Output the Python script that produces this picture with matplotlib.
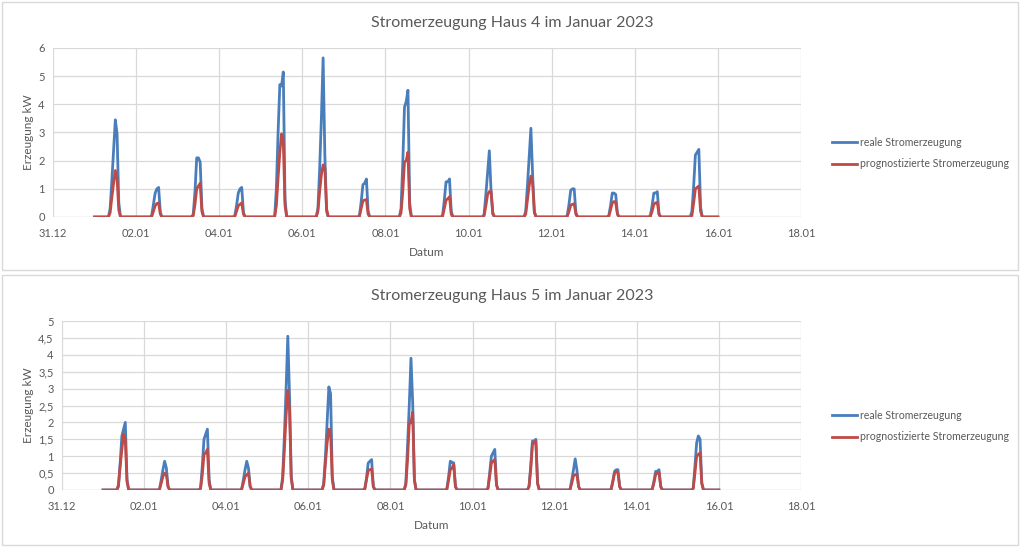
import numpy as np
import pandas as pd
import matplotlib
matplotlib.use("Agg")
import matplotlib.pyplot as plt
import matplotlib.dates as mdates
from matplotlib.ticker import FuncFormatter, MultipleLocator
from matplotlib.patches import Rectangle
from matplotlib.transforms import blended_transform_factory

plt.rcParams['font.family'] = ['Lato', 'DejaVu Sans']

# hourly values 08:00 .. 16:00 for each day 01.01 .. 15.01 (rest of day = 0)
day_hours = [8, 9, 10, 11, 12, 13, 14, 15, 16]

haus4_real = [
    [0, 0.3, 1.3, 2.4, 3.45, 2.95, 0.5, 0, 0],
    [0, 0.05, 0.45, 0.85, 1.0, 1.05, 0.15, 0, 0],
    [0, 0.1, 0.9, 2.1, 2.1, 1.95, 0.3, 0, 0],
    [0, 0.05, 0.4, 0.85, 1.0, 1.05, 0.15, 0, 0],
    [0, 1.0, 3.0, 4.7, 4.65, 5.15, 0.6, 0, 0],
    [0, 0.3, 1.7, 3.5, 5.65, 2.2, 0.2, 0, 0],
    [0, 0.05, 0.55, 1.15, 1.2, 1.35, 0.2, 0, 0],
    [0, 0.3, 1.9, 3.9, 4.1, 4.5, 0.5, 0, 0],
    [0, 0.05, 0.6, 1.25, 1.25, 1.35, 0.2, 0, 0],
    [0, 0.1, 0.8, 1.6, 2.35, 0.9, 0.1, 0, 0],
    [0, 0.2, 1.1, 2.1, 3.15, 1.5, 0.15, 0, 0],
    [0, 0.05, 0.45, 0.95, 1.0, 1.0, 0.15, 0, 0],
    [0, 0.05, 0.4, 0.85, 0.85, 0.8, 0.1, 0, 0],
    [0, 0.05, 0.4, 0.85, 0.85, 0.9, 0.1, 0, 0],
    [0, 0.2, 1.1, 2.2, 2.3, 2.4, 0.35, 0, 0],
]
haus4_prog = [
    [0, 0.15, 0.7, 1.2, 1.65, 1.35, 0.25, 0, 0],
    [0, 0.02, 0.2, 0.4, 0.48, 0.5, 0.1, 0, 0],
    [0, 0.05, 0.45, 1.0, 1.1, 1.2, 0.2, 0, 0],
    [0, 0.02, 0.2, 0.4, 0.45, 0.5, 0.1, 0, 0],
    [0, 0.4, 1.4, 2.3, 2.95, 2.7, 0.4, 0, 0],
    [0, 0.2, 0.9, 1.5, 1.85, 1.75, 0.3, 0, 0],
    [0, 0.03, 0.3, 0.58, 0.6, 0.62, 0.1, 0, 0],
    [0, 0.15, 0.9, 1.95, 2.0, 2.3, 0.3, 0, 0],
    [0, 0.03, 0.3, 0.6, 0.65, 0.72, 0.1, 0, 0],
    [0, 0.05, 0.4, 0.8, 0.9, 0.92, 0.15, 0, 0],
    [0, 0.1, 0.6, 1.1, 1.45, 1.2, 0.2, 0, 0],
    [0, 0.02, 0.2, 0.42, 0.45, 0.47, 0.1, 0, 0],
    [0, 0.02, 0.25, 0.5, 0.55, 0.5, 0.1, 0, 0],
    [0, 0.02, 0.2, 0.45, 0.5, 0.52, 0.1, 0, 0],
    [0, 0.05, 0.5, 1.0, 1.05, 1.1, 0.2, 0, 0],
]
haus5_real = [
    [0, 0.1, 0.8, 1.6, 1.8, 2.0, 0.3, 0, 0],
    [0, 0.02, 0.3, 0.6, 0.85, 0.65, 0.1, 0, 0],
    [0, 0.05, 0.7, 1.5, 1.65, 1.8, 0.3, 0, 0],
    [0, 0.02, 0.3, 0.6, 0.85, 0.65, 0.1, 0, 0],
    [0, 0.4, 1.6, 3.0, 4.55, 2.8, 0.4, 0, 0],
    [0, 0.2, 1.0, 2.0, 3.05, 2.85, 0.4, 0, 0],
    [0, 0.03, 0.35, 0.8, 0.85, 0.9, 0.1, 0, 0],
    [0, 0.2, 1.3, 2.5, 3.9, 2.6, 0.3, 0, 0],
    [0, 0.03, 0.4, 0.85, 0.82, 0.8, 0.1, 0, 0],
    [0, 0.05, 0.5, 1.0, 1.1, 1.2, 0.15, 0, 0],
    [0, 0.1, 0.7, 1.45, 1.45, 1.5, 0.2, 0, 0],
    [0, 0.02, 0.3, 0.6, 0.92, 0.6, 0.1, 0, 0],
    [0, 0.02, 0.25, 0.55, 0.6, 0.6, 0.1, 0, 0],
    [0, 0.02, 0.25, 0.55, 0.55, 0.6, 0.1, 0, 0],
    [0, 0.05, 0.7, 1.4, 1.6, 1.5, 0.2, 0, 0],
]
haus5_prog = [
    [0, 0.15, 0.7, 1.2, 1.65, 1.5, 0.25, 0, 0],
    [0, 0.02, 0.2, 0.4, 0.5, 0.45, 0.1, 0, 0],
    [0, 0.05, 0.45, 1.05, 1.1, 1.2, 0.2, 0, 0],
    [0, 0.02, 0.2, 0.4, 0.45, 0.5, 0.1, 0, 0],
    [0, 0.3, 1.2, 2.2, 2.95, 2.4, 0.35, 0, 0],
    [0, 0.15, 0.8, 1.4, 1.8, 1.7, 0.3, 0, 0],
    [0, 0.03, 0.3, 0.58, 0.6, 0.62, 0.1, 0, 0],
    [0, 0.15, 0.9, 1.95, 2.0, 2.3, 0.3, 0, 0],
    [0, 0.03, 0.3, 0.6, 0.65, 0.75, 0.1, 0, 0],
    [0, 0.05, 0.4, 0.8, 0.85, 0.9, 0.15, 0, 0],
    [0, 0.1, 0.6, 1.35, 1.4, 1.45, 0.2, 0, 0],
    [0, 0.02, 0.2, 0.42, 0.45, 0.47, 0.1, 0, 0],
    [0, 0.02, 0.25, 0.5, 0.55, 0.5, 0.1, 0, 0],
    [0, 0.02, 0.2, 0.45, 0.5, 0.52, 0.1, 0, 0],
    [0, 0.05, 0.5, 1.0, 1.05, 1.1, 0.2, 0, 0],
]

labels = ["reale Stromerzeugung", "prognostizierte Stromerzeugung"]
titles = ["Stromerzeugung Haus 4 im Januar 2023", "Stromerzeugung Haus 5 im Januar 2023"]

times = pd.date_range("2023-01-01 00:00", "2023-01-16 00:00", freq="h")


def hourly(days):
    vals = np.zeros(len(times))
    for d, prof in enumerate(days):
        for h, v in zip(day_hours, prof):
            vals[d * 24 + h] = v
    return vals


BLUE = "#4a7ebb"
RED = "#be4b48"
GRID = "#d9d9d9"
TXT = "#595959"

fig = plt.figure(figsize=(10.24, 5.49), dpi=100)

# chart area frames
for y0, y1 in [(2, 270), (275, 545)]:
    fig.patches.append(Rectangle((2 / 1024, 1 - y1 / 549), 1016 / 1024, (y1 - y0) / 549,
                                 transform=fig.transFigure, fill=False,
                                 edgecolor="#d9d9d9", linewidth=1))

panels = [
    dict(real=haus4_real, prog=haus4_prog, rect=[53 / 1024, 1 - 217 / 549, 748 / 1024, 169 / 549],
         ymax=6, step=1, top=2, leg=153),
    dict(real=haus5_real, prog=haus5_prog, rect=[62 / 1024, 1 - 490 / 549, 739 / 1024, 169 / 549],
         ymax=5, step=0.5, top=275, leg=426),
]

for p, title in zip(panels, titles):
    ax = fig.add_axes(p["rect"])
    l1, = ax.plot(times, hourly(p["real"]), color=BLUE, lw=2.0, solid_joinstyle="round")
    l2, = ax.plot(times, hourly(p["prog"]), color=RED, lw=2.0, solid_joinstyle="round")
    ax.set_xlim(pd.Timestamp("2022-12-31"), pd.Timestamp("2023-01-18"))
    ax.set_ylim(0, p["ymax"])
    ax.xaxis.set_major_locator(mdates.DayLocator(bymonthday=[31, 2, 4, 6, 8, 10, 12, 14, 16, 18]))
    ax.xaxis.set_major_formatter(mdates.DateFormatter("%d.%m"))
    ax.yaxis.set_major_locator(MultipleLocator(p["step"]))
    ax.yaxis.set_major_formatter(FuncFormatter(lambda v, pos: f"{v:g}".replace(".", ",")))
    ax.grid(True, color=GRID, lw=0.9)
    ax.set_axisbelow(True)
    for s in ax.spines.values():
        s.set_visible(False)
    ax.axhline(0, color=GRID, lw=0.9, zorder=0)
    ax.tick_params(length=0, labelsize=8, labelcolor=TXT)
    ax.tick_params(axis="x", pad=8)
    ax.tick_params(axis="y", pad=6)
    ax.set_xlabel("Datum", fontsize=8.5, color=TXT, labelpad=6)
    ax.set_ylabel("Erzeugung kW", fontsize=8.5, color=TXT)
    ax.yaxis.set_label_coords(34 / 1024, 0.5,
                              transform=blended_transform_factory(fig.transFigure, ax.transAxes))
    fig.text(0.5, 1 - (p["top"] + 21) / 549, title, ha="center", va="center",
             fontsize=11.5, color=TXT)
    fig.legend([l1, l2], labels, loc="center left", frameon=False,
               bbox_to_anchor=(832 / 1024, 1 - p["leg"] / 549), fontsize=7.6,
               labelcolor=TXT, handlelength=2.4, handletextpad=0.3, labelspacing=1.0,
               borderpad=0, borderaxespad=0)

fig.savefig("out.png", dpi=100, facecolor="white")
